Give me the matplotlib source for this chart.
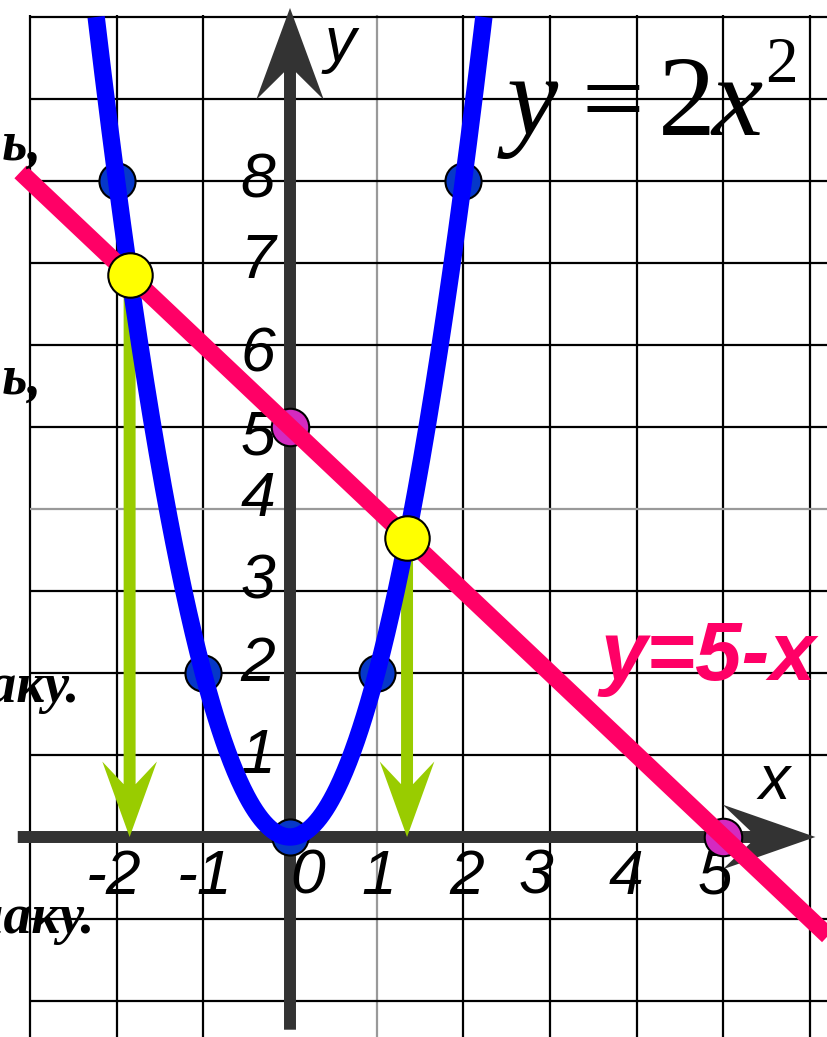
import numpy as np
import matplotlib
matplotlib.use("Agg")
import matplotlib.pyplot as plt
from matplotlib.patches import FancyArrow

# data
grid_x = [-3, -2, -1, 0, 1, 2, 3, 4, 5, 6]
grid_y = [-2, -1, 0, 1, 2, 3, 4, 5, 6, 7, 8, 9, 10]
grey_x = [1]
grey_y = [4]

par_pts_x = [-2, -1, 0, 1, 2]
par_pts_y = [8, 2, 0, 2, 8]
line_pts_x = [0, 5]
line_pts_y = [5, 0]
cross_x = [-1.85, 1.35]
cross_y = [6.85, 3.65]

xtick_lbl = ["-2", "-1", "0", "1", "2", "3", "4", "5"]
xtick_pos = [-2.03, -0.99, 0.2, 1.02, 2.04, 2.84, 3.88, 4.90]
ytick_lbl = ["1", "2", "3", "4", "5", "6", "7", "8"]
ytick_pos = [0.98, 2.1, 3.11, 4.11, 4.87, 5.88, 7.02, 8.0]

# formula y = 2x^2 split in pieces: text, left x, baseline y, size, italic
frm_txt = ["y", "=", "2", "x", "2"]
frm_x = [2.50, 3.36, 4.24, 4.86, 5.48]
frm_y = [8.56, 8.56, 8.56, 8.56, 9.21]
frm_size = [83, 80, 83, 83, 47]
frm_ital = [True, False, False, True, False]

# cut-off words on the left edge: text, right end x, baseline y
side_txt = ["ить,", "ить,", "ознаку.", "ознаку."]
side_x = [-2.86, -2.86, -2.43, -2.26]
side_y = [8.26, 5.41, 1.65, -1.17]

fig = plt.figure(figsize=(8.27, 10.37), dpi=100)
ax = fig.add_axes([0, 0, 1, 1])
ax.set_xlim(-3.345, 6.194)
ax.set_ylim(-2.439, 10.207)
ax.axis('off')

# grid
for gx in grid_x:
    if gx == 0:
        continue
    c = '#999999' if gx in grey_x else 'black'
    ax.vlines(gx, -2.5, 10.02, color=c, lw=1.6, zorder=1)
for gy in grid_y:
    if gy == 0:
        continue
    c = '#999999' if gy in grey_y else 'black'
    ax.hlines(gy, -3, 6.3, color=c, lw=1.6, zorder=1)

# axes with arrow heads
ax.add_patch(FancyArrow(-3.14, 0, 9.2, 0, width=0.146, head_width=0.79,
                        head_length=1.07, overhang=0.3, length_includes_head=True,
                        color='#333333', lw=0, zorder=2))
ax.add_patch(FancyArrow(0, -2.35, 0, 12.46, width=0.138, head_width=0.78,
                        head_length=1.12, overhang=0.3, length_includes_head=True,
                        color='#333333', lw=0, zorder=2))

# tick labels
tick_font = dict(family='Liberation Sans', style='italic', fontsize=45, color='black')
for lbl, px in zip(xtick_lbl, xtick_pos):
    ax.text(px, -0.49, lbl, ha='center', va='center', zorder=2.5, **tick_font)
for lbl, py in zip(ytick_lbl, ytick_pos):
    ax.text(-0.37, py, lbl, ha='center', va='center', zorder=2.5, **tick_font)
ax.text(0.58, 9.66, "y", ha='center', va='center', zorder=2.5, **tick_font)
ax.text(5.58, 0.67, "x", ha='center', va='center', zorder=2.5, **tick_font)

# points
ax.plot(par_pts_x, par_pts_y, 'o', ms=26, mfc='#0638C8', mec='black', mew=1.5, zorder=3)
ax.plot(line_pts_x, line_pts_y, 'o', ms=27, mfc='#D42AC0', mec='black', mew=1.5, zorder=3)

# green arrows down to x axis
for cx, cy in zip(cross_x, cross_y):
    ax.add_patch(FancyArrow(cx, cy, 0, -cy, width=0.138, head_width=0.63,
                            head_length=0.92, overhang=0.3, length_includes_head=True,
                            color='#99CC00', lw=0, zorder=3.5))

# curves
xs = np.linspace(-np.sqrt(5), np.sqrt(5), 400)
ax.plot(xs, 2 * xs ** 2, color='#0000FF', lw=12.5, solid_capstyle='butt', zorder=4)
xl = np.array([-3.11, 6.4])
ax.plot(xl, 5 - xl, color='#FF0066', lw=12.5, solid_capstyle='butt', zorder=5)

ax.plot(cross_x, cross_y, 'o', ms=32, mfc='#FFFF00', mec='black', mew=1.5, zorder=6)

# formulas
for t, tx, ty, fs, it in zip(frm_txt, frm_x, frm_y, frm_size, frm_ital):
    ax.text(tx, ty, t, family='Liberation Serif', style='italic' if it else 'normal',
            fontsize=fs, ha='left', va='baseline', zorder=7)
ax.text(3.58, 1.91, "y=5-x", family='Liberation Sans', style='italic', weight='bold',
        fontsize=60, color='#FF0066', ha='left', va='baseline', zorder=7)

for t, tx, ty in zip(side_txt, side_x, side_y):
    ax.text(tx, ty, t, family='Liberation Serif', style='italic', weight='bold',
            fontsize=40, ha='right', va='baseline', zorder=7)

fig.savefig("out.png", dpi=100)
